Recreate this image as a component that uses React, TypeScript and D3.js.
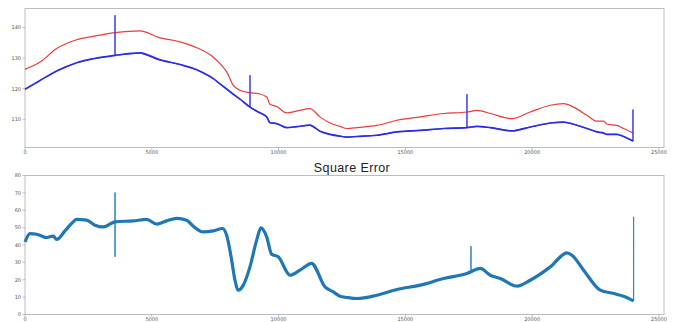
import React from 'react';
import * as d3 from 'd3';

// top panel: predicted (red) vs actual (blue)
const topX = [0, 591, 1249, 2037, 2694, 3549, 4535, 5290, 6112, 6770, 7426, 7689, 7952, 8215, 8478, 8872, 9200, 9530, 9661, 9924, 10318, 10713, 11238, 11632, 12027, 12421, 12697, 13091, 13880, 14669, 15588, 16509, 17429, 17823, 18349, 19203, 19925, 20715, 21241, 21635, 22161, 22555, 22819, 22950, 23344, 23607, 23975];
const redVals = [126.3, 128.7, 133.1, 136.0, 137.1, 138.3, 138.9, 136.7, 135.3, 133.4, 130.3, 128.2, 125.5, 121.1, 119.5, 118.7, 118.4, 117.3, 114.9, 114.2, 112.1, 112.7, 113.5, 110.8, 108.8, 107.7, 107.0, 107.3, 108.0, 109.7, 110.8, 111.9, 112.4, 112.9, 111.9, 110.2, 112.4, 114.6, 115.1, 114.0, 111.3, 109.4, 109.4, 108.4, 108.0, 107.0, 105.5];
const blueVals = [119.8, 122.7, 125.8, 128.5, 129.8, 130.9, 131.7, 129.5, 127.9, 126.2, 123.3, 121.6, 119.9, 118.2, 116.6, 114.0, 112.4, 110.8, 108.9, 108.6, 107.3, 107.6, 108.1, 106.1, 105.1, 104.5, 104.2, 104.4, 104.8, 105.9, 106.4, 107.0, 107.3, 107.7, 107.3, 106.2, 107.5, 108.8, 109.1, 108.4, 107.0, 105.9, 105.5, 105.1, 105.1, 104.4, 102.9];
// single-sample outliers in the blue series: [x, value]
const blueSpikes = [[3549, 144.0], [8872, 124.4], [17429, 118.2], [23975, 113.2]];

// bottom panel: square error
const errX = [0, 197, 460, 854, 1117, 1249, 1577, 1840, 2037, 2432, 2760, 3090, 3549, 4272, 4798, 5193, 5587, 5981, 6375, 6638, 7032, 7426, 7794, 7952, 8150, 8281, 8412, 8609, 8872, 9136, 9306, 9530, 9727, 9990, 10450, 10844, 11304, 11830, 12160, 12421, 12697, 13091, 13880, 14669, 15588, 16509, 17429, 17955, 18349, 18744, 19401, 19925, 20715, 21372, 21570, 22030, 22687, 23213, 23607, 24000];
const errVals = [41.8, 46.6, 46.2, 44.3, 45.1, 43.2, 48.1, 52.4, 54.7, 54.3, 51.4, 50.4, 53.3, 53.9, 54.7, 52.0, 53.9, 55.3, 54.3, 50.8, 47.5, 48.1, 49.5, 45.6, 31.3, 19.7, 14.0, 16.9, 27.4, 42.8, 49.8, 44.7, 34.7, 33.2, 22.6, 25.5, 29.4, 15.9, 13.0, 10.5, 9.8, 9.2, 11.1, 14.4, 16.9, 20.7, 23.6, 26.5, 22.6, 20.7, 16.3, 19.7, 27.4, 35.5, 34.1, 25.5, 14.0, 12.1, 10.5, 7.8];
const errSpikes = [[3549, 70.2, 33.2], [17587, 39.3], [24000, 56.2]];

const xTicks = [0, 5000, 10000, 15000, 20000, 25000];
const topYTicks = [110, 120, 130, 140];
const botYTicks = [0, 10, 20, 30, 40, 50, 60, 70, 80];

const W = 677;
const H = 322;
const left = 25;
const right = 664;

function withSpikes(xs: number[], ys: number[], spikes: number[][]) {
  const pts: [number, number][] = xs.map((x, i) => [x, ys[i]]);
  spikes.forEach((s) => {
    const x = s[0];
    // find base value at spike position
    let idx = pts.findIndex((p) => p[0] >= x);
    if (idx < 0) idx = pts.length - 1;
    const base = idx > 0 && pts[idx][0] > x
      ? pts[idx - 1][1] + (pts[idx][1] - pts[idx - 1][1]) * (x - pts[idx - 1][0]) / (pts[idx][0] - pts[idx - 1][0])
      : pts[idx][1];
    const extra: [number, number][] = [[x, base]];
    s.slice(1).forEach((v) => extra.push([x + 1, v]));
    extra.push([x + 2, base]);
    const at = pts[idx][0] > x ? idx : idx + 1;
    pts.splice(at, 0, ...extra);
  });
  return pts.sort((a, b) => a[0] - b[0]);
}

const Panel = ({ top, bottom, yDomain, yTicks, children }: any) => {
  const x = d3.scaleLinear().domain([0, 25200]).range([left, right]);
  const y = d3.scaleLinear().domain(yDomain).range([bottom, top]);
  return (
    <g>
      <rect x={left} y={top} width={right - left} height={bottom - top} fill="#fff" stroke="#bdbdbd" strokeWidth={1} />
      {children(x, y)}
      {xTicks.map((t) => (
        <g key={'x' + t}>
          <line x1={x(t)} x2={x(t)} y1={bottom} y2={bottom + 2.5} stroke="#999" strokeWidth={0.6} />
          <text x={x(t)} y={bottom + 6.8} fontSize={5} fill="#555" textAnchor="middle" fontFamily="DejaVu Sans">{t}</text>
        </g>
      ))}
      {yTicks.map((t: number) => (
        <g key={'y' + t}>
          <line x1={left - 2.5} x2={left} y1={y(t)} y2={y(t)} stroke="#999" strokeWidth={0.6} />
          <text x={left - 4} y={y(t) + 1.8} fontSize={5} fill="#555" textAnchor="end" fontFamily="DejaVu Sans">{t}</text>
        </g>
      ))}
    </g>
  );
};

export default function App() {
  const redPts: [number, number][] = topX.map((x, i) => [x, redVals[i]]);
  const bluePts: [number, number][] = topX.map((x, i) => [x, blueVals[i]]);
  const blueAll = withSpikes(topX, blueVals, blueSpikes);
  const errPts: [number, number][] = errX.map((x, i) => [x, errVals[i]]);
  const errAll = withSpikes(errX, errVals, errSpikes);

  return (
    <svg width={W} height={H} style={{ position: 'absolute', left: 0, top: 0, background: '#fff' }}>
      <Panel top={8.5} bottom={147.5} yDomain={[100.8, 146.2]} yTicks={topYTicks}>
        {(x: any, y: any) => {
          const line = d3.line<[number, number]>().x((d) => x(d[0])).y((d) => y(d[1])).curve(d3.curveMonotoneX);
          const lineRaw = d3.line<[number, number]>().x((d) => x(d[0])).y((d) => y(d[1]));
          return (
            <g>
              <path d={line(redPts) || ''} fill="none" stroke="#ee3a3a" strokeWidth={1.2} />
              <path d={lineRaw(blueAll) || ''} fill="none" stroke="#3a3aee" strokeWidth={1} />
              <path d={line(bluePts) || ''} fill="none" stroke="#2b2be8" strokeWidth={1.7} strokeLinejoin="round" />
            </g>
          );
        }}
      </Panel>
      <text x={352} y={172} fontSize={12.5} fill="#222" textAnchor="middle" fontFamily="Liberation Sans" letterSpacing={0.4}>Square Error</text>
      <Panel top={175.5} bottom={314.5} yDomain={[0, 80]} yTicks={botYTicks}>
        {(x: any, y: any) => {
          const line = d3.line<[number, number]>().x((d) => x(d[0])).y((d) => y(d[1])).curve(d3.curveMonotoneX);
          const lineRaw = d3.line<[number, number]>().x((d) => x(d[0])).y((d) => y(d[1]));
          return (
            <g>
              <path d={lineRaw(errAll) || ''} fill="none" stroke="#2a82bf" strokeWidth={1} />
              <path d={line(errPts) || ''} fill="none" stroke="#1f77b4" strokeWidth={3.2} strokeLinejoin="round" />
            </g>
          );
        }}
      </Panel>
    </svg>
  );
}
